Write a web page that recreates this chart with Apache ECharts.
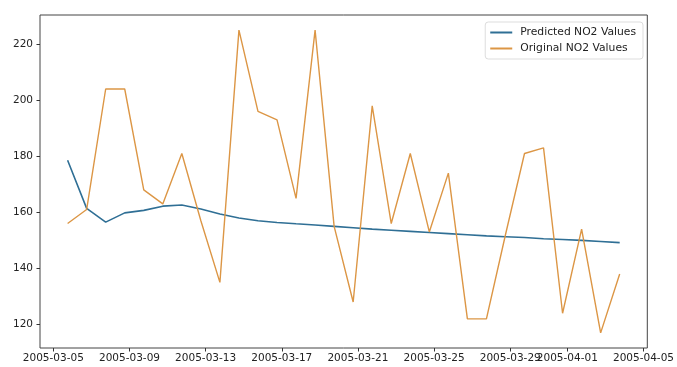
<!DOCTYPE html>
<html>
<head>
<meta charset="utf-8">
<script src="https://cdn.jsdelivr.net/npm/echarts@6/dist/echarts.min.js"></script>
<style>
    html, body { margin: 0; padding: 0; background: #fff; }
    #main { width: 677px; height: 367px; }
</style>
</head>
<body>
<div id="main"></div>
<script>
    // readings taken daily at 18:00
    var dates = [
        '2005-03-05 18:00', '2005-03-06 18:00', '2005-03-07 18:00', '2005-03-08 18:00',
        '2005-03-09 18:00', '2005-03-10 18:00', '2005-03-11 18:00', '2005-03-12 18:00',
        '2005-03-13 18:00', '2005-03-14 18:00', '2005-03-15 18:00', '2005-03-16 18:00',
        '2005-03-17 18:00', '2005-03-18 18:00', '2005-03-19 18:00', '2005-03-20 18:00',
        '2005-03-21 18:00', '2005-03-22 18:00', '2005-03-23 18:00', '2005-03-24 18:00',
        '2005-03-25 18:00', '2005-03-26 18:00', '2005-03-27 18:00', '2005-03-28 18:00',
        '2005-03-29 18:00', '2005-03-30 18:00', '2005-03-31 18:00', '2005-04-01 18:00',
        '2005-04-02 18:00', '2005-04-03 18:00'
    ];
    var predicted = [
        178.6, 161.4, 156.5, 159.8, 160.7, 162.2, 162.6, 161.2, 159.4, 158.0,
        157.0, 156.4, 155.9, 155.5, 155.0, 154.5, 154.0, 153.6, 153.2, 152.8,
        152.4, 152.0, 151.6, 151.3, 151.0, 150.6, 150.3, 150.0, 149.6, 149.2
    ];
    var original = [
        156, 161, 204, 204, 168, 163, 181, 157, 135, 225,
        196, 193, 165, 225, 155, 128, 198, 156, 181, 153,
        174, 122, 122, 152, 181, 183, 124, 154, 117, 138
    ];
    var xTicks = ['2005-03-05', '2005-03-09', '2005-03-13', '2005-03-17', '2005-03-21',
        '2005-03-25', '2005-03-29', '2005-04-01', '2005-04-05'];
    var yTicks = [120, 140, 160, 180, 200, 220];

    function toTime(s) {
        var p = s.split(/[- :]/);
        return new Date(+p[0], +p[1] - 1, +p[2], +(p[3] || 0), +(p[4] || 0)).getTime();
    }
    function pad(n) {
        return (n < 10 ? '0' : '') + n;
    }
    function fmtDate(v) {
        var d = new Date(v);
        return d.getFullYear() + '-' + pad(d.getMonth() + 1) + '-' + pad(d.getDate());
    }

    var times = dates.map(toTime);
    var xTickTimes = xTicks.map(toTime);

    // matplotlib style 5% margins
    var t0 = times[0], t1 = times[times.length - 1];
    var xPad = (t1 - t0) * 0.05;
    var lo = Math.min.apply(null, original.concat(predicted));
    var hi = Math.max.apply(null, original.concat(predicted));
    var yPad = (hi - lo) * 0.05;

    var chart = echarts.init(document.getElementById('main'));

    var tickStyle = {
        show: true,
        inside: false,
        length: 3.5,
        lineStyle: { color: '#333', width: 1 }
    };
    var labelFont = {
        fontFamily: 'DejaVu Sans',
        fontSize: 10.5,
        color: '#222'
    };

    var options = {
        animation: false,
        backgroundColor: '#fff',
        grid: {
            left: 40,
            right: 29,
            top: 15,
            bottom: 19,
            show: true,
            borderColor: '#444',
            borderWidth: 1,
            backgroundColor: 'transparent'
        },
        legend: {
            orient: 'vertical',
            right: 34,
            top: 22,
            icon: 'rect',
            itemWidth: 22,
            itemHeight: 2,
            itemGap: 5,
            padding: [5, 7, 5, 5],
            backgroundColor: '#fff',
            borderColor: '#ddd',
            borderWidth: 1,
            borderRadius: 3,
            textStyle: {
                fontFamily: 'DejaVu Sans',
                fontSize: 10.75,
                color: '#222',
                padding: [0, 0, 0, 3]
            },
            data: ['Predicted NO2 Values', 'Original NO2 Values']
        },
        xAxis: {
            type: 'value',
            min: t0 - xPad,
            max: t1 + xPad,
            splitLine: { show: false },
            axisLine: { show: false },
            axisTick: Object.assign({ customValues: xTickTimes }, tickStyle),
            axisLabel: Object.assign({
                customValues: xTickTimes,
                margin: 5,
                hideOverlap: false,
                formatter: fmtDate
            }, labelFont)
        },
        yAxis: {
            type: 'value',
            min: lo - yPad,
            max: hi + yPad,
            splitLine: { show: false },
            axisLine: { show: false },
            axisTick: Object.assign({ customValues: yTicks }, tickStyle),
            axisLabel: Object.assign({
                customValues: yTicks,
                margin: 7
            }, labelFont)
        },
        series: [{
            name: 'Predicted NO2 Values',
            type: 'line',
            showSymbol: false,
            color: '#2f6f95',
            lineStyle: { width: 1.6, color: '#2f6f95' },
            data: times.map(function(t, i) { return [t, predicted[i]]; })
        }, {
            name: 'Original NO2 Values',
            type: 'line',
            showSymbol: false,
            color: '#dc9645',
            lineStyle: { width: 1.4, color: '#dc9645' },
            data: times.map(function(t, i) { return [t, original[i]]; })
        }]
    };

    chart.setOption(options);
</script>
</body>
</html>
